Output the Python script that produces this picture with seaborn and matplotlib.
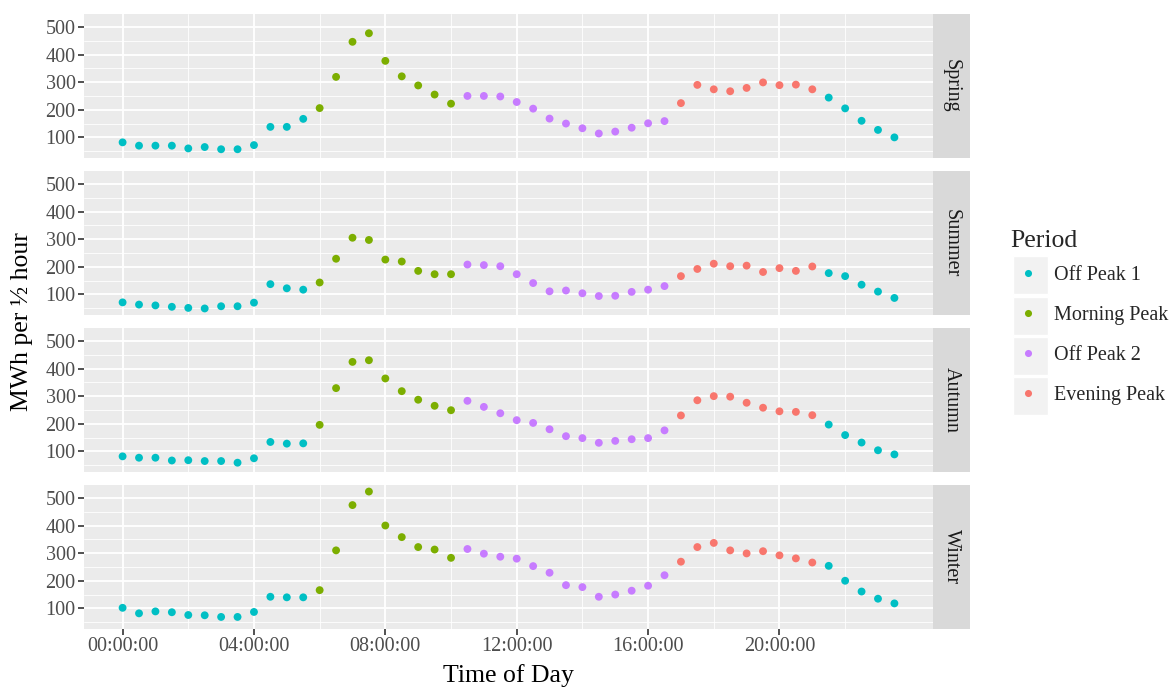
import numpy as np
import pandas as pd
import matplotlib
matplotlib.use('Agg')
import matplotlib.pyplot as plt
import seaborn as sns
from matplotlib.patches import Rectangle

# Dữ liệu: MWh mỗi nửa giờ theo mùa
seasons = ['Spring', 'Summer', 'Autumn', 'Winter']
periods = ['Off Peak 1', 'Morning Peak', 'Off Peak 2', 'Evening Peak']
period_colors = ['#00BFC4', '#7CAE00', '#C77CFF', '#F8766D']

time_of_day = [f'{h:02d}:{m:02d}:00' for h in range(24) for m in (0, 30)]
period_of_slot = (['Off Peak 1'] * 12 + ['Morning Peak'] * 9 + ['Off Peak 2'] * 13
                  + ['Evening Peak'] * 9 + ['Off Peak 1'] * 5)

spring = [82, 70, 70, 70, 60, 65, 57, 57, 72, 138, 138, 167,
          206, 319, 446, 477, 377, 321, 288, 255, 222,
          250, 250, 248, 228, 204, 168, 150, 133, 114, 121, 135, 151, 159,
          224, 290, 274, 267, 279, 299, 289, 291, 274,
          244, 205, 160, 127, 100]
summer = [71, 63, 60, 55, 51, 49, 57, 57, 70, 137, 122, 117,
          143, 229, 305, 297, 226, 219, 185, 173, 173,
          208, 206, 202, 173, 141, 111, 114, 104, 94, 95, 109, 117, 130,
          166, 192, 211, 202, 204, 181, 195, 185, 201,
          177, 166, 135, 110, 87]
autumn = [82, 77, 77, 67, 68, 65, 65, 59, 75, 134, 128, 129,
          196, 329, 424, 430, 364, 318, 287, 265, 249,
          283, 261, 238, 213, 203, 180, 155, 148, 131, 138, 144, 148, 176,
          230, 285, 300, 298, 276, 258, 245, 243, 231,
          197, 159, 132, 104, 89]
winter = [102, 82, 89, 86, 76, 75, 69, 69, 87, 142, 140, 140,
          166, 310, 474, 523, 400, 358, 322, 313, 283,
          315, 298, 287, 280, 253, 229, 184, 177, 142, 150, 164, 182, 220,
          269, 322, 337, 310, 299, 307, 292, 281, 266,
          254, 200, 161, 135, 118]

x_tick_labels = ['00:00:00', '04:00:00', '08:00:00', '12:00:00', '16:00:00', '20:00:00']
y_ticks = [100, 200, 300, 400, 500]

# Gom thành bảng dài
frames = []
for name, vals in zip(seasons, [spring, summer, autumn, winter]):
    frames.append(pd.DataFrame({'Season': name, 'Time': time_of_day,
                                'Period': period_of_slot, 'MWh': vals}))
df = pd.concat(frames, ignore_index=True)
df['Hours'] = pd.to_timedelta(df['Time']).dt.total_seconds() / 3600

sns.set_theme(style='white')
plt.rcParams['font.family'] = ['Liberation Serif', 'DejaVu Serif']

W, H = 1176, 688
fig = plt.figure(figsize=(W / 100, H / 100), dpi=100)

x_lo, x_hi = df['Hours'].min(), df['Hours'].max()
x_pad = 0.05 * (x_hi - x_lo)
y_lo, y_hi = df['MWh'].min(), df['MWh'].max()
y_pad = 0.05 * (y_hi - y_lo)

major_x = [pd.to_timedelta(t).total_seconds() / 3600 for t in x_tick_labels]
minor_x = [h + 2 for h in major_x]
minor_y = [50, 150, 250, 350, 450]

left, right = 84, 933
tops = [14, 171, 328, 485]
ph = 144
handles = labels = None
for i, (season, top) in enumerate(zip(seasons, tops)):
    ax = fig.add_axes([left / W, 1 - (top + ph) / H, (right - left) / W, ph / H])
    ax.set_facecolor('#EBEBEB')
    sns.scatterplot(data=df[df['Season'] == season], x='Hours', y='MWh',
                    hue='Period', hue_order=periods, palette=period_colors,
                    s=32, edgecolor='none', ax=ax, legend=(i == 0), zorder=3)
    if i == 0:
        handles, labels = ax.get_legend_handles_labels()
        ax.get_legend().remove()
    ax.set_xlim(x_lo - x_pad, x_hi + x_pad)
    ax.set_ylim(y_lo - y_pad, y_hi + y_pad)
    ax.set_xticks(major_x)
    ax.set_xticks(minor_x, minor=True)
    ax.set_yticks(y_ticks)
    ax.set_yticks(minor_y, minor=True)
    ax.grid(which='major', color='white', linewidth=1.3, zorder=0)
    ax.grid(which='minor', color='white', linewidth=0.6, zorder=0)
    ax.set_axisbelow(True)
    for sp in ax.spines.values():
        sp.set_visible(False)
    ax.tick_params(axis='both', which='minor', length=0)
    ax.tick_params(axis='y', which='major', length=4, width=1.2, color='#333333',
                   labelsize=14.5, labelcolor='#4D4D4D', pad=2, left=True)
    if i == len(seasons) - 1:
        ax.set_xticklabels(x_tick_labels)
        ax.tick_params(axis='x', which='major', length=4, width=1.2, color='#333333',
                       labelsize=14.5, labelcolor='#4D4D4D', pad=2, bottom=True)
    else:
        ax.tick_params(axis='x', which='major', length=0, labelbottom=False)
    ax.set_xlabel('')
    ax.set_ylabel('')

    # Dải tên mùa bên phải
    sax = fig.add_axes([right / W, 1 - (top + ph) / H, 37 / W, ph / H])
    sax.set_facecolor('#D9D9D9')
    sax.set_xticks([])
    sax.set_yticks([])
    for sp in sax.spines.values():
        sp.set_visible(False)
    sax.text(0.5, 0.5, season, rotation=-90, ha='center', va='center',
             fontsize=14.5, color='#1A1A1A', transform=sax.transAxes)

fig.text((left + right) / 2 / W, 1 - 676 / H, 'Time of Day', ha='center', va='center',
         fontsize=18.5, color='black')
fig.text(22 / W, 1 - 322 / H, 'MWh per ½ hour', ha='center', va='center',
         rotation=90, fontsize=18.5, color='black')

leg = fig.legend(handles, labels, title='Period', loc='upper left',
                 bbox_to_anchor=(1010 / W, 1 - 230 / H), frameon=False,
                 fontsize=14.5, title_fontsize=18.5, markerscale=0.9,
                 handlelength=1.8, handletextpad=0.4, labelspacing=1.04,
                 borderaxespad=0, borderpad=0)
leg._legend_box.align = 'left'
leg._legend_box.sep = 10

# Ô nền xám cho từng khóa chú giải (kiểu ggplot)
fig.canvas.draw()
renderer = fig.canvas.get_renderer()
for txt in leg.get_texts():
    bb = txt.get_window_extent(renderer)
    cy = (bb.y0 + bb.y1) / 2
    fig.patches.append(Rectangle((1013 / W, (cy - 19) / H), 35 / W, 38 / H,
                                 transform=fig.transFigure, facecolor='#F2F2F2',
                                 edgecolor='white', linewidth=1.0, zorder=0))

fig.savefig('out.png', dpi=100)
plt.close(fig)
